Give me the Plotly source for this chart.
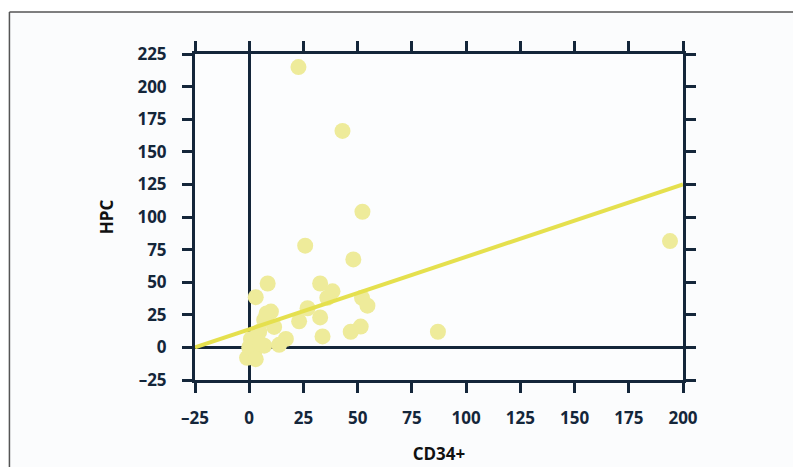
import plotly.graph_objects as go

# Data
cd34 = [22.7, 43, 52.2, 25.8, 48, 194, 87, 8.5, 3, 32.7, 38.4, 36, 52, 54.5,
        51.4, 46.8, 33.8, 32.7, 26.9, 23, 10, 6.9, 11.5, 16.9, 13.8, 0.8, 2.3,
        -1, 6.9, 4.6, 0, 3, 8, 5]
hpc = [215, 166, 104, 78, 67.5, 81.5, 12, 49, 38.5, 49, 43, 38, 38, 32,
       16, 12, 8.4, 23, 30, 20, 27.5, 21, 15.7, 6.5, 2, 6.5, -4,
       -8, 1.3, 12, 0, -9, 26, 3]
fit_x = [-25, 200]
fit_y = [0, 125]
x_ticks = [-25, 0, 25, 50, 75, 100, 125, 150, 175, 200]
y_ticks = [-25, 0, 25, 50, 75, 100, 125, 150, 175, 200, 225]

AX = "#14263a"
FONT = "Open Sans"

fig = go.Figure()
fig.add_trace(go.Scatter(x=cd34, y=hpc, mode="markers",
                         marker=dict(size=16, color="#eeeb9a", line=dict(width=0)),
                         showlegend=False, hoverinfo="x+y"))
fig.add_trace(go.Scatter(x=fit_x, y=fit_y, mode="lines",
                         line=dict(color="#e5e04e", width=4),
                         showlegend=False, hoverinfo="skip"))

# page body has an 8px margin; figure fits inside the window
W, H = 785, 459
L, T = 194.5 - 8, 54 - 8
R = W - (683 - 8)
B = H - (380 - 8)
pw, ph = W - L - R, H - T - B

def px(xp):
    return (xp - L) / pw

def py(yp):
    return (H - B - yp) / ph

axis_common = dict(
    showgrid=False, zeroline=True, zerolinecolor=AX, zerolinewidth=3,
    showline=True, linecolor=AX, linewidth=3, mirror="ticks",
    ticks="outside", ticklen=10, tickwidth=3, tickcolor=AX,
    tickfont=dict(family=FONT, size=17, color=AX, weight="bold"),
    title_font=dict(family=FONT, size=17, color="#111111", weight="bold"),
)

fig.update_xaxes(range=[-25, 200], tickvals=x_ticks,
                 ticktext=[str(v).replace("-", "\u2013") for v in x_ticks],
                 title_text="CD34+", title_standoff=20, ticklabelstandoff=11,
                 **axis_common)
fig.update_yaxes(range=[-25, 225], tickvals=y_ticks,
                 ticktext=[str(v).replace("-", "\u2013") for v in y_ticks],
                 title_text="HPC", title_standoff=20, ticklabelstandoff=12,
                 **axis_common)

fig.update_layout(
    width=W, height=H,
    margin=dict(l=L, r=R, t=T, b=B, autoexpand=False),
    paper_bgcolor="#fbfcfd", plot_bgcolor="#fcfdfe",
    shapes=[
        dict(type="rect", xref="paper", yref="paper", x0=px(-5), x1=px(W + 5),
             y0=py(4), y1=py(-5), fillcolor="white", line=dict(width=0), layer="below"),
        dict(type="line", xref="paper", yref="paper", x0=px(0.75), x1=px(W + 5),
             y0=py(4), y1=py(4), line=dict(color="#555555", width=1.5)),
        dict(type="line", xref="paper", yref="paper", x0=px(0.75), x1=px(0.75),
             y0=py(4), y1=py(H + 5), line=dict(color="#555555", width=1.5)),
    ],
)

fig.write_html("out.html")
